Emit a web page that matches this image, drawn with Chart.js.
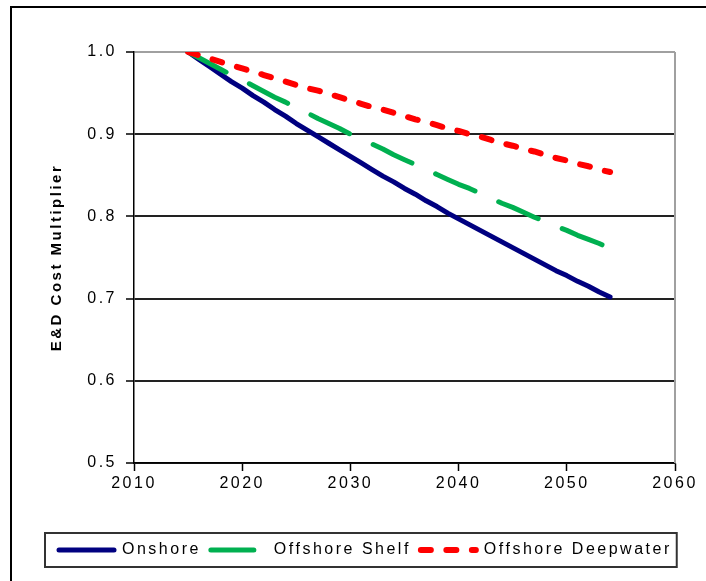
<!DOCTYPE html>
<html>
<head>
<meta charset="utf-8">
<script src="https://cdn.jsdelivr.net/npm/chart.js"></script>
<style>
  html, body { margin: 0; padding: 0; background: #fff; overflow: hidden; }
  canvas { display: block; }
</style>
</head>
<body>
<canvas id="chart" width="706" height="581"></canvas>
<script>
// === Data ===
const years = [2015, 2016, 2017, 2018, 2019, 2020, 2021, 2022, 2023, 2024,
               2025, 2026, 2027, 2028, 2029, 2030, 2031, 2032, 2033, 2034,
               2035, 2036, 2037, 2038, 2039, 2040, 2041, 2042, 2043, 2044,
               2045, 2046, 2047, 2048, 2049, 2050, 2051, 2052, 2053, 2054];

const onshore = [1.000, 0.991, 0.982, 0.973, 0.964, 0.956, 0.947, 0.939, 0.930, 0.922,
                 0.913, 0.905, 0.897, 0.889, 0.881, 0.873, 0.865, 0.857, 0.849, 0.842,
                 0.834, 0.827, 0.819, 0.812, 0.804, 0.797, 0.790, 0.783, 0.776, 0.769,
                 0.762, 0.755, 0.748, 0.741, 0.734, 0.728, 0.721, 0.715, 0.708, 0.702];

const offshoreShelf = [1.000, 0.993, 0.986, 0.979, 0.972, 0.966, 0.959, 0.952, 0.945, 0.939,
                       0.932, 0.926, 0.919, 0.913, 0.907, 0.900, 0.894, 0.888, 0.882, 0.875,
                       0.869, 0.863, 0.857, 0.851, 0.845, 0.839, 0.834, 0.828, 0.822, 0.816,
                       0.811, 0.805, 0.799, 0.794, 0.788, 0.783, 0.777, 0.772, 0.767, 0.761];

const offshoreDeep = [1.000, 0.996, 0.992, 0.988, 0.984, 0.980, 0.976, 0.972, 0.968, 0.964,
                      0.960, 0.956, 0.953, 0.949, 0.945, 0.941, 0.937, 0.933, 0.930, 0.926,
                      0.922, 0.918, 0.915, 0.911, 0.907, 0.904, 0.900, 0.897, 0.893, 0.889,
                      0.886, 0.882, 0.879, 0.875, 0.871, 0.868, 0.864, 0.861, 0.857, 0.854];

const seriesNames = ["Onshore", "Offshore Shelf", "Offshore Deepwater"];
const xTicks = [2010, 2020, 2030, 2040, 2050, 2060];
const yTicks = [0.5, 0.6, 0.7, 0.8, 0.9, 1.0];

const toPoints = vals => years.map((y, i) => ({ x: y, y: vals[i] }));

// === Helpers: frame, letter spacing, legend box ===
const SPACING = "2.5px";
const FONT = "'Liberation Sans', Arial, sans-serif";

const framePlugin = {
  id: "frame",
  beforeUpdate(chart) { chart.ctx.letterSpacing = SPACING; },
  beforeLayout(chart) { chart.ctx.letterSpacing = SPACING; },
  beforeDraw(chart) {
    const ctx = chart.ctx;
    ctx.letterSpacing = SPACING;
    ctx.save();
    ctx.fillStyle = "#fff";
    ctx.fillRect(0, 0, chart.width, chart.height);
    ctx.strokeStyle = "#000";
    ctx.lineWidth = 2;
    ctx.strokeRect(11, 7, 900, 900);
    ctx.restore();
  },
  beforeDatasetsDraw(chart) {
    const { ctx, chartArea: a } = chart;
    ctx.save();
    ctx.strokeStyle = "#a0a0a0";
    ctx.lineWidth = 2;
    ctx.beginPath();
    ctx.moveTo(a.right, a.top);
    ctx.lineTo(a.right, a.bottom);
    ctx.stroke();
    ctx.restore();
  },
  afterDraw(chart) {
    const lg = chart.legend;
    if (!lg || !lg.legendHitBoxes.length) return;
    const boxes = lg.legendHitBoxes;
    const first = boxes[0], last = boxes[boxes.length - 1];
    const ctx = chart.ctx;
    ctx.save();
    ctx.strokeStyle = "#333";
    ctx.lineWidth = 2;
    const x0 = first.left - 14, x1 = last.left + last.width + 5;
    ctx.strokeRect(x0, lg.top + 1, x1 - x0, lg.height - 2);
    ctx.restore();
  }
};

// legend samples: keep each dataset's dash and round caps
function legendLabels(chart) {
  const items = Chart.defaults.plugins.legend.labels.generateLabels(chart);
  items.forEach(it => {
    const ds = chart.data.datasets[it.datasetIndex];
    it.lineDash = ds.borderDash || [];
    it.lineCap = "round";
    it.lineWidth = ds.borderWidth;
    it.strokeStyle = ds.borderColor;
  });
  return items;
}

// === Chart ===
const ctx = document.getElementById("chart").getContext("2d");
new Chart(ctx, {
  type: "line",
  data: {
    datasets: [
      {
        label: seriesNames[0],
        data: toPoints(onshore),
        borderColor: "#000080",
        backgroundColor: "#000080",
        borderWidth: 5,
        borderCapStyle: "round",
        borderJoinStyle: "round",
        pointRadius: 0,
        order: 2
      },
      {
        label: seriesNames[1],
        data: toPoints(offshoreShelf),
        borderColor: "#00B050",
        backgroundColor: "#00B050",
        borderWidth: 5,
        borderDash: [43, 26],
        borderCapStyle: "round",
        borderJoinStyle: "round",
        pointRadius: 0,
        order: 1
      },
      {
        label: seriesNames[2],
        data: toPoints(offshoreDeep),
        borderColor: "#FF0000",
        backgroundColor: "#FF0000",
        borderWidth: 6,
        borderDash: [10, 15.5],
        borderCapStyle: "round",
        borderJoinStyle: "round",
        pointRadius: 0,
        order: 0
      }
    ]
  },
  options: {
    responsive: false,
    animation: false,
    devicePixelRatio: 1,
    layout: { padding: { left: 49, right: 0, top: 52, bottom: 13 } },
    plugins: {
      tooltip: { enabled: false },
      legend: {
        position: "bottom",
        align: "start",
        labels: {
          usePointStyle: true,
          pointStyle: "line",
          pointStyleWidth: 55,
          boxHeight: 16,
          padding: 10,
          color: "#000",
          font: { family: FONT, size: 16 },
          generateLabels: legendLabels,
          sort: (a, b) => a.datasetIndex - b.datasetIndex
        }
      }
    },
    scales: {
      x: {
        type: "linear",
        min: xTicks[0],
        max: xTicks[xTicks.length - 1],
        afterBuildTicks: s => { s.ticks = xTicks.map(v => ({ value: v })); },
        afterFit: s => { s.height = 69; },
        ticks: {
          color: "#000",
          padding: 3,
          maxRotation: 0,
          font: { family: FONT, size: 16 },
          callback: v => String(v)
        },
        grid: {
          drawOnChartArea: false,
          drawTicks: true,
          tickLength: 8,
          tickColor: "#000",
          tickWidth: 1.5
        },
        border: { color: "#000", width: 1.5 }
      },
      y: {
        min: yTicks[0],
        max: yTicks[yTicks.length - 1],
        afterBuildTicks: s => { s.ticks = yTicks.map(v => ({ value: v })); },
        afterFit: s => { s.width = 85; },
        ticks: {
          color: "#000",
          padding: 9,
          font: { family: FONT, size: 16 },
          callback: v => Number(v).toFixed(1)
        },
        grid: {
          color: c => (c.tick && c.tick.value === 1 ? "#a0a0a0" : "#222"),
          lineWidth: 2,
          tickLength: 8,
          tickColor: "#000",
          tickWidth: 1.5
        },
        border: { color: "#000", width: 1.5 },
        title: {
          display: true,
          text: "E&D Cost Multiplier",
          color: "#000",
          padding: 0,
          font: { family: FONT, size: 15, weight: "bold", lineHeight: 1 }
        }
      },
      // empty right margin so the legend gets the full width
      yRight: {
        position: "right",
        min: yTicks[0],
        max: yTicks[yTicks.length - 1],
        afterFit: s => { s.width = 31; },
        ticks: { display: false },
        grid: { display: false, drawTicks: false },
        border: { display: false }
      }
    }
  },
  plugins: [framePlugin]
});
</script>
</body>
</html>
